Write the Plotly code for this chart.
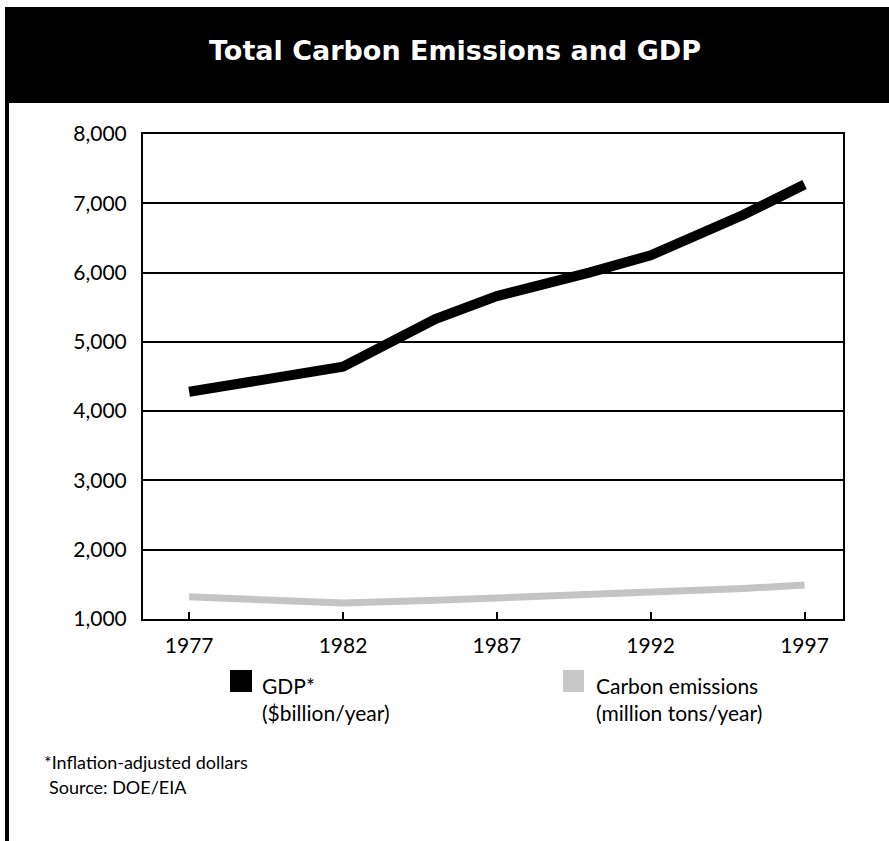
import plotly.graph_objects as go

# --- data ---
years = [1977, 1980, 1982, 1985, 1987, 1990, 1992, 1995, 1997]
gdp = [4280, 4490, 4640, 5330, 5660, 6000, 6250, 6830, 7270]
carbon = [1320, 1270, 1230, 1270, 1310, 1350, 1390, 1440, 1490]
x_ticks = [1977, 1982, 1987, 1992, 1997]
y_ticks = [1000, 2000, 3000, 4000, 5000, 6000, 7000, 8000]
y_tick_text = ["1,000", "2,000", "3,000", "4,000", "5,000", "6,000", "7,000", "8,000"]

W, H = 889, 841
L, R, T, B = 143, 843, 134, 619  # plot area in pixels


def px(x):
    return (x - L) / (R - L)


def py(y):
    return (B - y) / (B - T)


FONT = "Lato"

fig = go.Figure()
fig.add_trace(go.Scatter(
    x=years, y=carbon, mode="lines", name="Carbon emissions",
    line=dict(color="#c4c4c4", width=7), showlegend=False,
))
fig.add_trace(go.Scatter(
    x=years, y=gdp, mode="lines", name="GDP",
    line=dict(color="black", width=10), showlegend=False,
))

fig.update_layout(
    width=W, height=H,
    margin=dict(l=L, r=W - R, t=T, b=H - B),
    paper_bgcolor="white", plot_bgcolor="white",
    font=dict(family=FONT, color="black"),
    xaxis=dict(
        range=[1975.5, 1998.25], tickvals=x_ticks, ticktext=[str(v) for v in x_ticks],
        showgrid=False, zeroline=False,
        showline=True, linecolor="black", linewidth=2, mirror=True,
        ticks="inside", ticklen=7, tickwidth=2, tickcolor="black",
        tickfont=dict(size=21, family=FONT, color="black"), ticklabelstandoff=7,
    ),
    yaxis=dict(
        range=[1000, 8000], tickvals=y_ticks, ticktext=y_tick_text,
        showgrid=True, gridcolor="black", gridwidth=2, zeroline=False,
        showline=True, linecolor="black", linewidth=2, mirror=True,
        ticks="", tickfont=dict(size=21, family=FONT, color="black"),
        ticklabelstandoff=10,
    ),
)

shapes = [
    # title band
    dict(type="rect", xref="paper", yref="paper",
         x0=px(5), x1=px(895), y0=py(103), y1=py(7),
         fillcolor="black", line=dict(width=0), layer="below"),
    # left frame rule
    dict(type="rect", xref="paper", yref="paper",
         x0=px(5), x1=px(9), y0=py(845), y1=py(103),
         fillcolor="black", line=dict(width=0), layer="below"),
    # legend swatches
    dict(type="rect", xref="paper", yref="paper",
         x0=px(230), x1=px(252), y0=py(692), y1=py(670),
         fillcolor="black", line=dict(width=0)),
    dict(type="rect", xref="paper", yref="paper",
         x0=px(563), x1=px(584), y0=py(692), y1=py(670),
         fillcolor="#c8c8c8", line=dict(width=0)),
]
fig.update_layout(shapes=shapes)

ann = [
    dict(text="<b>Total Carbon Emissions and GDP</b>", x=px(455), y=py(51),
         font=dict(size=27, color="white", family="DejaVu Sans")),
    dict(text="GDP*<br>($billion/year)", x=px(260), y=py(683 - 12),
         xanchor="left", yanchor="top", align="left",
         font=dict(size=21, family=FONT)),
    dict(text="Carbon emissions<br>(million tons/year)", x=px(594), y=py(683 - 12),
         xanchor="left", yanchor="top", align="left",
         font=dict(size=21, family=FONT)),
    dict(text="*Inflation-adjusted dollars", x=px(42), y=py(762),
         xanchor="left", yanchor="middle", font=dict(size=18, family=FONT)),
    dict(text="Source: DOE/EIA", x=px(47), y=py(787),
         xanchor="left", yanchor="middle", font=dict(size=18, family=FONT)),
]
for a in ann:
    a.setdefault("xanchor", "center")
    a.setdefault("yanchor", "middle")
    fig.add_annotation(xref="paper", yref="paper", showarrow=False, **a)

fig.write_html("out.html")
